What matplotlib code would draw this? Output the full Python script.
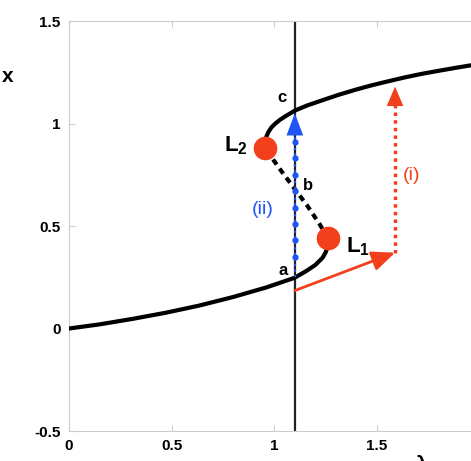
import matplotlib
matplotlib.use('Agg')
import matplotlib.pyplot as plt

plt.rcParams['font.family'] = ['Liberation Sans', 'DejaVu Sans']
plt.rcParams['mathtext.fontset'] = 'custom'
plt.rcParams['mathtext.bf'] = 'Liberation Sans:bold'
plt.rcParams['mathtext.rm'] = 'Liberation Sans'

# S-shaped curve, (lambda, x)
lower_lam = [0, 0.148, 0.31, 0.472, 0.635, 0.797, 0.96, 1.098, 1.155, 1.2, 1.235, 1.252, 1.26, 1.262]
lower_x = [0, 0.02, 0.047, 0.077, 0.112, 0.153, 0.2, 0.247, 0.28, 0.31, 0.345, 0.375, 0.41, 0.44]
middle_lam = [1.262, 1.22, 1.16, 1.1, 1.04, 0.99, 0.955]
middle_x = [0.44, 0.51, 0.6, 0.68, 0.76, 0.83, 0.88]
upper_lam = [0.955, 0.956, 0.961, 0.971, 0.985, 1.003, 1.026, 1.052, 1.1, 1.16, 1.23, 1.31, 1.393,
             1.473, 1.555, 1.636, 1.717, 1.8, 1.88, 1.958]
upper_x = [0.88, 0.905, 0.935, 0.958, 0.98, 0.998, 1.017, 1.034, 1.063, 1.088, 1.112, 1.139, 1.164,
           1.186, 1.206, 1.225, 1.242, 1.257, 1.271, 1.284]

# limit points
fold_lam = [1.262, 0.955]
fold_x = [0.44, 0.88]

lam0 = 1.1                       # fixed parameter (vertical line)
jump_ii = [0.25, 1.05]           # blue jump a -> c
dots_ii = [0.35, 0.43, 0.51, 0.59, 0.67, 0.75, 0.83, 0.91]
ramp_start = (1.1, 0.185)        # red ramp (i)
ramp_end = (1.588, 0.37)
jump_i_top = 1.18

red = '#f3401c'
blue = '#1f55f5'

fig = plt.figure(figsize=(4.71, 4.61), dpi=100)
ax = fig.add_axes([69 / 471, 30 / 461, 402 / 471, 410 / 461])
ax.set_xlim(0, 1.958)
ax.set_ylim(-0.5, 1.5)

for s in ['left', 'bottom', 'top']:
    ax.spines[s].set_color('#cccccc')
ax.spines['right'].set_visible(False)
ax.set_xticks([0, 0.5, 1, 1.5])
ax.set_xticklabels(['0', '0.5', '1', '1.5'])
ax.set_yticks([-0.5, 0, 0.5, 1, 1.5])
ax.set_yticklabels(['-0.5', '0', '0.5', '1', '1.5'])
ax.tick_params(direction='in', length=4, color='#cccccc', top=True,
               labelsize=11, pad=6)
for t in ax.get_xticklabels() + ax.get_yticklabels():
    t.set_fontweight('bold')

ax.axvline(lam0, color='#222222', lw=1.6, zorder=2)

ax.plot(lower_lam, lower_x, color='black', lw=3, solid_capstyle='round',
        solid_joinstyle='round', zorder=3)
ax.plot(upper_lam, upper_x, color='black', lw=3, solid_capstyle='round',
        solid_joinstyle='round', zorder=3)
ax.plot(middle_lam, middle_x, color='black', lw=3, ls=(0, (1.5, 1.2)), zorder=3)

# (ii) blue jump
ax.plot([lam0, lam0], [jump_ii[0], jump_ii[1] - 0.08], color=blue, lw=1.5, ls=':', zorder=4)
ax.plot([lam0] * len(dots_ii), dots_ii, 'o', color=blue, ms=3.5, zorder=4)
ax.annotate('', xy=(lam0, jump_ii[1]), xytext=(lam0, jump_ii[1] - 0.1),
            arrowprops=dict(arrowstyle='-|>,head_length=0.8,head_width=0.3',
                            mutation_scale=20, color=blue, lw=0,
                            shrinkA=0, shrinkB=0), zorder=5)

# (i) red ramp and jump
ax.annotate('', xy=ramp_end, xytext=ramp_start,
            arrowprops=dict(arrowstyle='-|>,head_length=0.7,head_width=0.3',
                            mutation_scale=20, color=red, lw=2,
                            shrinkA=0, shrinkB=0), zorder=5)
ax.plot([ramp_end[0], ramp_end[0]], [ramp_end[1], jump_i_top - 0.06],
        color=red, lw=2.5, ls=(0, (1, 1.2)), zorder=4)
ax.annotate('', xy=(ramp_end[0], jump_i_top), xytext=(ramp_end[0], jump_i_top - 0.08),
            arrowprops=dict(arrowstyle='-|>,head_length=0.7,head_width=0.3',
                            mutation_scale=20, color=red, lw=0,
                            shrinkA=0, shrinkB=0), zorder=5)

ax.plot(fold_lam, fold_x, 'o', color=red, ms=16, zorder=6)

ax.text(0.87, 0.89, r'$\mathbf{L}_\mathbf{2}$', fontsize=16, ha='right', va='center')
ax.text(1.35, 0.40, r'$\mathbf{L}_\mathbf{1}$', fontsize=16, ha='left', va='center')
ax.text(1.042, 0.285, 'a', fontsize=12, fontweight='bold', ha='center', va='center')
ax.text(1.164, 0.70, 'b', fontsize=12, fontweight='bold', ha='center', va='center')
ax.text(1.037, 1.127, 'c', fontsize=12, fontweight='bold', ha='center', va='center')
ax.text(0.945, 0.58, '(ii)', fontsize=14, color=blue, ha='center', va='center')
ax.text(1.67, 0.746, '(i)', fontsize=14, color=red, ha='center', va='center')

fig.text(8 / 471, 1 - 77 / 461, 'x', fontsize=15, fontweight='bold', ha='center', va='center')
fig.text(422 / 471, 1 - 455 / 461, 'λ', fontsize=15, fontweight='bold', ha='center', va='top')

fig.savefig('out.png', dpi=100)
